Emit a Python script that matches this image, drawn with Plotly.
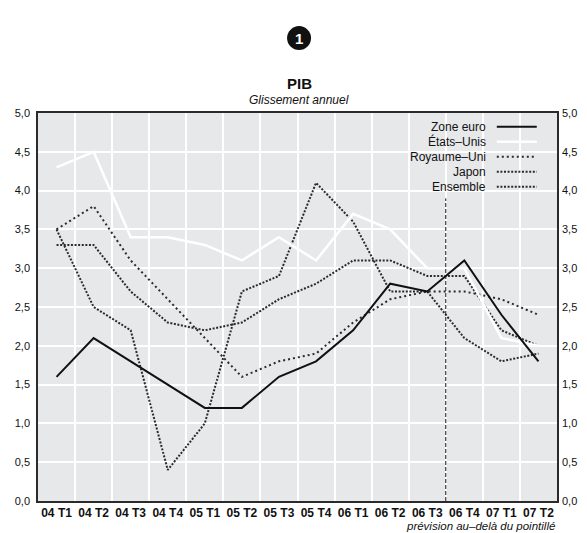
import plotly.graph_objects as go

# ---- data ----
quarters = ["04 T1", "04 T2", "04 T3", "04 T4", "05 T1", "05 T2", "05 T3",
            "05 T4", "06 T1", "06 T2", "06 T3", "06 T4", "07 T1", "07 T2"]
zone_euro = [1.6, 2.1, 1.8, 1.5, 1.2, 1.2, 1.6, 1.8, 2.2, 2.8, 2.7, 3.1, 2.4, 1.8]
etats_unis = [4.3, 4.5, 3.4, 3.4, 3.3, 3.1, 3.4, 3.1, 3.7, 3.5, 3.0, 3.0, 2.1, 2.0]
royaume_uni = [3.5, 3.8, 3.1, 2.6, 2.1, 1.6, 1.8, 1.9, 2.3, 2.6, 2.7, 2.7, 2.6, 2.4]
japon = [3.5, 2.5, 2.2, 0.4, 1.0, 2.7, 2.9, 4.1, 3.6, 2.7, 2.7, 2.1, 1.8, 1.9]
ensemble = [3.3, 3.3, 2.7, 2.3, 2.2, 2.3, 2.6, 2.8, 3.1, 3.1, 2.9, 2.9, 2.2, 2.0]
y_ticks = [0.0, 0.5, 1.0, 1.5, 2.0, 2.5, 3.0, 3.5, 4.0, 4.5, 5.0]
last_observed = "06 T3"   # forecast beyond the dotted line
forecast_top = 3.9

FONT = "Liberation Sans, Arial, Helvetica, sans-serif"
DARK = "#2b2b2b"

series = [
    ("Royaume–Uni", royaume_uni, dict(color=DARK, width=2, dash="2px,3px")),
    ("Japon", japon, dict(color=DARK, width=2, dash="2px,1.6px")),
    ("Ensemble", ensemble, dict(color=DARK, width=2, dash="2px,1.6px")),
    ("États–Unis", etats_unis, dict(color="white", width=2.5)),
    ("Zone euro", zone_euro, dict(color="#111111", width=2)),
]
legend_order = ["Zone euro", "États–Unis", "Royaume–Uni", "Japon", "Ensemble"]

fig = go.Figure()
for name, vals, line in series:
    fig.add_trace(go.Scatter(x=quarters, y=vals, mode="lines", name=name,
                             line=line, showlegend=False, hoverinfo="skip"))
# invisible trace so the right-hand axis is drawn
fig.add_trace(go.Scatter(x=quarters, y=zone_euro, yaxis="y2", mode="lines",
                         line=dict(width=0), opacity=0, showlegend=False,
                         hoverinfo="skip"))

# manual legend (text on left, sample on right)
styles = {n: l for n, _, l in series}
row0, step = 0.9647, 0.0387
for i, name in enumerate(legend_order):
    yy = row0 - i * step
    fig.add_annotation(x=0.868, y=yy, xref="paper", yref="paper", text=name,
                       showarrow=False, xanchor="right", yanchor="middle",
                       font=dict(family=FONT, size=12, color="#111"))
    ln = styles[name]
    fig.add_shape(type="line", xref="paper", yref="paper", x0=0.884, x1=0.961,
                  y0=yy, y1=yy, line=dict(color=ln["color"], width=ln["width"],
                                          dash=ln.get("dash", "solid")))

# forecast boundary
xi = quarters.index(last_observed) + 0.5
fig.add_shape(type="line", xref="x", yref="y", x0=xi, x1=xi, y0=0,
              y1=forecast_top, line=dict(color="#111", width=1, dash="4px,2px"))

# titles
fig.add_annotation(x=0.503, y=1.077, xref="paper", yref="paper", text="<b>PIB</b>",
                   showarrow=False, yanchor="middle",
                   font=dict(family=FONT, size=15, color="#111"))
fig.add_annotation(x=0.503, y=1.034, xref="paper", yref="paper",
                   text="<i>Glissement annuel</i>", showarrow=False,
                   yanchor="middle", font=dict(family=FONT, size=12, color="#111"))
fig.add_annotation(x=1.0, y=-0.044, xref="paper", yref="paper",
                   text="<i>prévision au–delà du pointillé</i>", showarrow=False,
                   xanchor="right", yanchor="top",
                   font=dict(family=FONT, size=11.5, color="#111"))
# numbered badge
fig.add_shape(type="circle", xref="paper", yref="paper", xsizemode="pixel",
              ysizemode="pixel", xanchor=0.503, yanchor=1.193,
              x0=-12, x1=12, y0=-12, y1=12, fillcolor="#111", line=dict(width=0))
fig.add_annotation(x=0.503, y=1.193, xref="paper", yref="paper", text="<b>1</b>",
                   showarrow=False, yanchor="middle",
                   font=dict(family=FONT, size=15, color="white"))

yax = dict(range=[0, 5], tickvals=y_ticks, tickformat=".1f",
           gridcolor="white", gridwidth=1.5, zeroline=False, ticks="",
           tickfont=dict(family=FONT, size=11, color="#111"), fixedrange=True,
           automargin=False, ticklabelstandoff=4)
# page body has an 8px margin: figure is shrunk so the plot lands where it should
fig.update_layout(
    width=579, height=525,
    margin=dict(l=30, r=30, t=105, b=32),
    paper_bgcolor="white", plot_bgcolor="#e7e8ea",
    separators=", ",
    showlegend=False,
    xaxis=dict(type="category", range=[-0.5, 13.5], tickson="boundaries",
               showgrid=True, gridcolor="white", gridwidth=1.5, ticks="",
               showline=True, mirror=True, linecolor=DARK, linewidth=1.5,
               tickangle=0, automargin=False,
               tickfont=dict(family=FONT, size=12, color="#111"),
               tickprefix="<b>", ticksuffix="</b>"),
    yaxis=dict(**yax, showgrid=True, showline=True, mirror=True,
               linecolor=DARK, linewidth=1.5),
    yaxis2=dict(**yax, showgrid=False, overlaying="y", side="right",
                showline=False),
)

fig.write_html("out.html")
